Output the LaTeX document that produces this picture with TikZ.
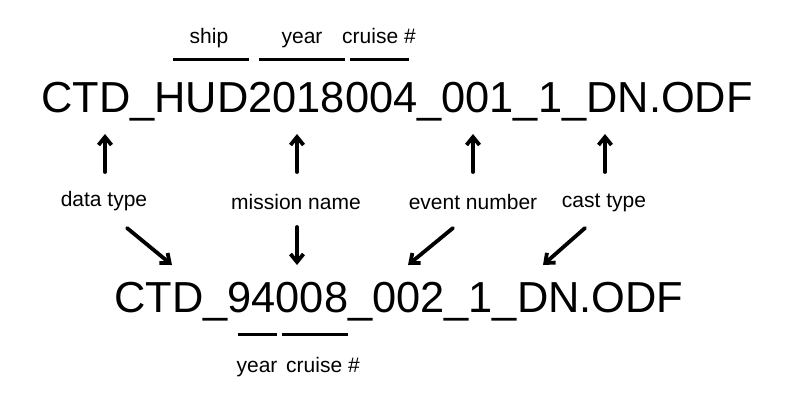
\documentclass[tikz,border=0pt]{standalone}
\usepackage{fontspec}
\setmainfont{Liberation Sans}
\usetikzlibrary{arrows.meta}
\begin{document}
\begin{tikzpicture}[x=1pt,y=-1pt,
  bigname/.style={inner sep=0pt,anchor=base west,font=\fontsize{43.4}{50}\selectfont},
  lbl/.style={inner sep=0pt,anchor=base,font=\fontsize{21}{25}\selectfont},
  bar/.style={line width=3pt},
  arr/.style={line width=3.8pt,line cap=round,-{Straight Barb[length=8pt,width=13pt]}}]
\useasboundingbox[fill=white] (0,0) rectangle (800,400);
% file names
\node[bigname] (top) at (41,112) {CTD\_HUD2018004\_001\_1\_DN.ODF};
\node[bigname] (bot) at (114,312) {CTD\_94008\_002\_1\_DN.ODF};
% top labels
\node[lbl] (ship) at (209,43) {ship};
\node[lbl] (yeart) at (302,43) {year};
\node[lbl] (cruiset) at (379,43) {cruise \#};
\draw[bar] (173,59) -- (249,59);
\draw[bar] (259,59) -- (345,59);
\draw[bar] (350,59) -- (409,59);
% bottom labels
\node[lbl] (yearb) at (257,372) {year};
\node[lbl] (cruiseb) at (323,372) {cruise \#};
\draw[bar] (238,334) -- (277,334);
\draw[bar] (282,334) -- (348,334);
% middle labels
\node[lbl] (dt) at (104,206) {data type};
\node[lbl] (mn) at (296,209) {mission name};
\node[lbl] (en) at (473,209) {event number};
\node[lbl] (ct) at (604,207) {cast type};
% arrow end points
\coordinate (dtU0) at (105,172); \coordinate (dtU1) at (105,134);
\coordinate (mnU0) at (297,172); \coordinate (mnU1) at (297,134);
\coordinate (enU0) at (473,172); \coordinate (enU1) at (473,134);
\coordinate (ctU0) at (605,172); \coordinate (ctU1) at (605,134);
\coordinate (dtD0) at (127,228); \coordinate (dtD1) at (172,265);
\coordinate (mnD0) at (297,227); \coordinate (mnD1) at (297,265);
\coordinate (enD0) at (453,228); \coordinate (enD1) at (408,265);
\coordinate (ctD0) at (585,228); \coordinate (ctD1) at (543,265);
\draw[arr] (dtU0) -- (dtU1);
\draw[arr] (mnU0) -- (mnU1);
\draw[arr] (enU0) -- (enU1);
\draw[arr] (ctU0) -- (ctU1);
\draw[arr] (dtD0) -- (dtD1);
\draw[arr] (mnD0) -- (mnD1);
\draw[arr] (enD0) -- (enD1);
\draw[arr] (ctD0) -- (ctD1);
\end{tikzpicture}
\end{document}
